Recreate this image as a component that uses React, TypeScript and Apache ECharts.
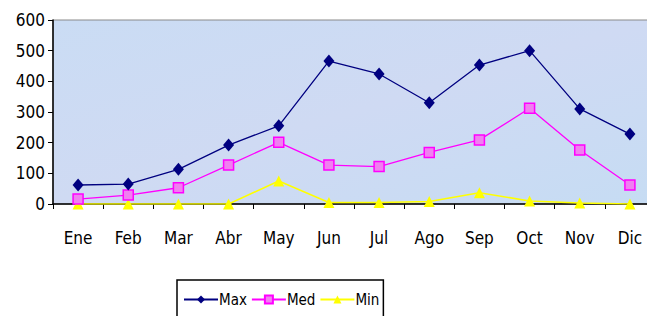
import React, { useEffect, useRef } from "react";
import * as echarts from "echarts";

const months = ["Ene", "Feb", "Mar", "Abr", "May", "Jun", "Jul", "Ago", "Sep", "Oct", "Nov", "Dic"];
const maxValues = [62, 65, 113, 192, 255, 466, 424, 330, 453, 500, 310, 228];
const medValues = [16, 29, 53, 127, 201, 127, 122, 168, 209, 312, 176, 62];
const minValues = [0, 0, 0, 0, 75, 5, 5, 8, 37, 10, 3, 0];
const yTicks = [0, 100, 200, 300, 400, 500, 600];

const FONT = "'DejaVu Sans Condensed', 'Liberation Sans', Arial, sans-serif";

export default function App() {
  const ref = useRef<HTMLDivElement>(null);
  useEffect(() => {
    if (!ref.current) return;
    const chart = echarts.init(ref.current, undefined, { renderer: "svg" });
    chart.setOption({
      animation: false,
      backgroundColor: "#ffffff",
      grid: {
        left: 53,
        top: 20,
        width: 619,
        height: 184,
        show: true,
        backgroundColor: new echarts.graphic.LinearGradient(0, 0, 1, 1, [
          { offset: 0, color: "#cadcf4" },
          { offset: 0.5, color: "#cfdaf3" },
          { offset: 1, color: "#c6dcf3" },
        ]),
        borderColor: "#8a8a8a",
        borderWidth: 1,
      },
      legend: {
        left: 177,
        top: 280,
        width: 206,
        itemGap: 4,
        itemWidth: 34,
        itemHeight: 10,
        padding: [12, 4, 30, 6],
        borderColor: "#000",
        borderWidth: 1.5,
        textStyle: { fontFamily: FONT, fontSize: 15, color: "#000", padding: [0, 0, 0, -4] },
        data: ["Max", "Med", "Min"],
      },
      xAxis: {
        type: "category",
        data: months,
        boundaryGap: true,
        axisLine: { lineStyle: { color: "#000", width: 1.5 } },
        axisTick: { show: true, length: 5, interval: 0, lineStyle: { color: "#000" } },
        axisLabel: { fontFamily: FONT, fontSize: 17, color: "#000", margin: 25, interval: 0 },
      },
      yAxis: {
        type: "value",
        min: 0,
        max: 600,
        interval: 100,
        axisLine: { show: true, lineStyle: { color: "#000", width: 1.5 } },
        axisTick: { show: true, length: 5, lineStyle: { color: "#000" } },
        splitLine: { show: false },
        axisLabel: {
          fontFamily: FONT,
          fontSize: 17,
          color: "#000",
          margin: 8,
          formatter: (v: number) => (yTicks.includes(v) ? String(v) : ""),
        },
      },
      series: [
        {
          name: "Max",
          type: "line",
          data: maxValues,
          symbol: "diamond",
          symbolSize: [11, 13],
          itemStyle: { color: "#000080" },
          lineStyle: { color: "#000080", width: 1.3 },
          z: 3,
        },
        {
          name: "Med",
          type: "line",
          data: medValues,
          symbol: "rect",
          symbolSize: 10,
          itemStyle: { color: "#f080f0", borderColor: "#ff00ff", borderWidth: 1.5 },
          lineStyle: { color: "#ff00ff", width: 1.3 },
          z: 2,
        },
        {
          name: "Min",
          type: "line",
          data: minValues,
          symbol: "triangle",
          symbolSize: 11,
          itemStyle: { color: "#ffff00" },
          lineStyle: { color: "#ffff00", width: 1.5 },
          z: 1,
        },
      ],
    });
    return () => chart.dispose();
  }, []);
  return <div ref={ref} style={{ width: 655, height: 324, margin: -8 }} />;
}
